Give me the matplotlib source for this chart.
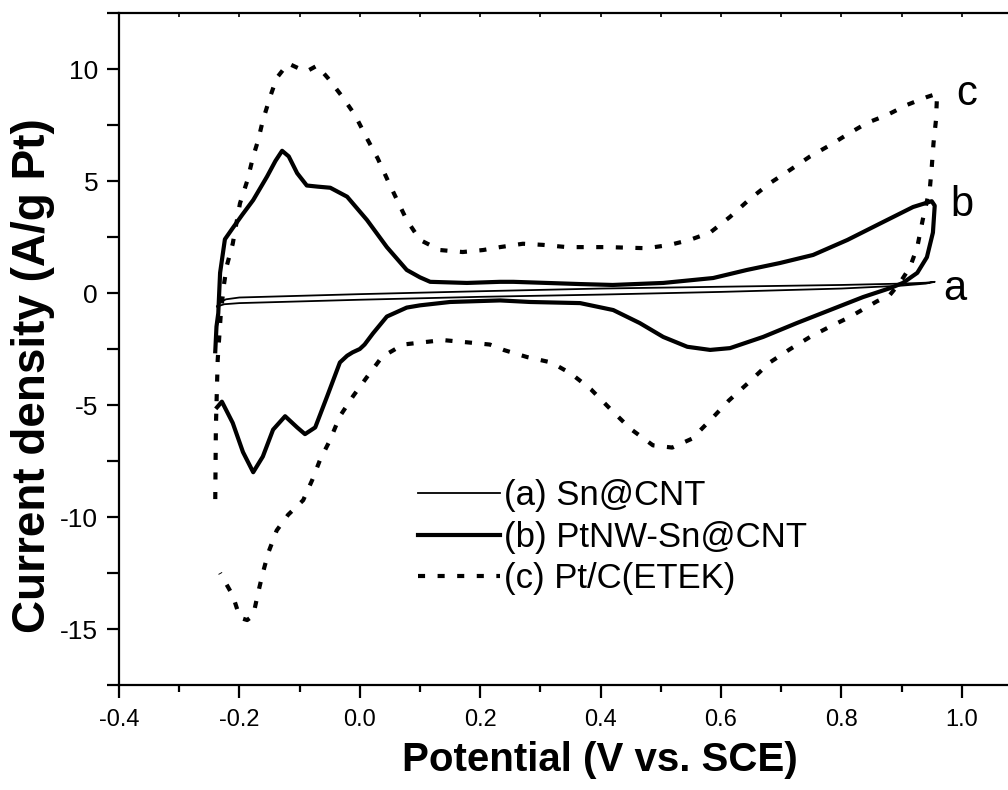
import numpy as np
import matplotlib.pyplot as plt
from matplotlib.ticker import MultipleLocator

plt.rcParams['font.family'] = ['Liberation Sans', 'DejaVu Sans']
plt.rcParams['axes.unicode_minus'] = False

# (a) Sn@CNT - thin loop
a_x = [-0.237, -0.232, -0.222, -0.2, 0.0, 0.2, 0.4, 0.6, 0.8, 0.9, 0.94, 0.955,
       0.94, 0.9, 0.8, 0.6, 0.4, 0.2, 0.0, -0.2, -0.225, -0.237]
a_y = [-0.6, -0.4, -0.28, -0.2, -0.05, 0.08, 0.2, 0.28, 0.36, 0.42, 0.46, 0.5,
       0.42, 0.33, 0.2, 0.05, -0.07, -0.17, -0.3, -0.45, -0.5, -0.6]

# (b) PtNW-Sn@CNT - thick solid
b_x = [-0.24, -0.238, -0.235, -0.232, -0.224, -0.211, -0.195, -0.177, -0.154, -0.14,
       -0.129, -0.118, -0.104, -0.088, -0.07, -0.049, -0.021, 0.012, 0.045, 0.078,
       0.1, 0.117, 0.178, 0.233, 0.255, 0.311, 0.366, 0.42, 0.504, 0.587,
       0.643, 0.698, 0.753, 0.81, 0.864, 0.919, 0.95, 0.955, 0.952, 0.942,
       0.926, 0.902, 0.881, 0.836, 0.781, 0.726, 0.67, 0.615, 0.582, 0.544,
       0.504, 0.465, 0.421, 0.366, 0.283, 0.233, 0.15, 0.1, 0.078, 0.045,
       0.022, 0.008, 0.0, -0.012, -0.021, -0.033, -0.054, -0.074, -0.091, -0.104,
       -0.124, -0.144, -0.161, -0.177, -0.194, -0.211, -0.229, -0.237]
b_y = [-2.6, -1.5, -0.9, 0.9, 2.4, 2.9, 3.5, 4.15, 5.2, 5.9,
       6.35, 6.1, 5.35, 4.8, 4.75, 4.7, 4.3, 3.26, 2.05, 1.03,
       0.7, 0.5, 0.45, 0.5, 0.5, 0.45, 0.4, 0.36, 0.45, 0.67,
       1.03, 1.34, 1.7, 2.37, 3.1, 3.84, 4.1, 3.9, 2.7, 1.6,
       0.9, 0.45, 0.22, -0.18, -0.76, -1.34, -1.96, -2.46, -2.54, -2.4,
       -1.96, -1.34, -0.76, -0.45, -0.4, -0.33, -0.4, -0.55, -0.65, -1.05,
       -1.8, -2.3, -2.5, -2.65, -2.8, -3.1, -4.6, -6.0, -6.3, -6.0,
       -5.5, -6.1, -7.3, -8.0, -7.1, -5.8, -4.85, -5.1]

# (c) Pt/C(ETEK) - dotted
c_x = [-0.24, -0.239, -0.236, -0.231, -0.226, -0.221, -0.211, -0.199, -0.187, -0.177,
       -0.169, -0.161, -0.149, -0.138, -0.119, -0.099, -0.088, -0.071, -0.053, -0.03,
       -0.008, 0.012, 0.03, 0.047, 0.062, 0.078, 0.1, 0.133, 0.171, 0.205,
       0.233, 0.271, 0.304, 0.344, 0.411, 0.477, 0.515, 0.548, 0.582, 0.615,
       0.648, 0.681, 0.715, 0.748, 0.781, 0.811, 0.843, 0.876, 0.909, 0.942,
       0.959, 0.957, 0.953, 0.95, 0.947, 0.935, 0.926, 0.914, 0.897, 0.88,
       0.859, 0.814, 0.781, 0.748, 0.715, 0.681, 0.647, 0.613, 0.585, 0.552,
       0.519, 0.487, 0.45, 0.417, 0.384, 0.351, 0.318, 0.278, 0.24, 0.216,
       0.178, 0.138, 0.105, 0.072, 0.037, 0.012, -0.011, -0.033, -0.05, -0.066,
       -0.079, -0.094, -0.119, -0.138, -0.152, -0.161, -0.169, -0.177, -0.187, -0.199,
       -0.211, -0.232]
c_y = [-9.2, -6.0, -3.0, -1.0, 0.3, 1.2, 2.2, 4.0, 5.0, 6.1,
       6.8, 7.7, 8.75, 9.6, 10.25, 10.0, 9.9, 10.15, 9.6, 8.8,
       7.95, 6.9, 6.0, 5.0, 4.15, 3.26, 2.37, 1.92, 1.83, 1.92,
       2.05, 2.2, 2.15, 2.05, 2.05, 2.0, 2.15, 2.37, 2.7, 3.4,
       4.2, 4.9, 5.5, 6.1, 6.6, 7.1, 7.6, 7.95, 8.4, 8.75,
       8.9, 7.7, 6.7, 5.6, 4.7, 3.26, 2.05, 1.16, 0.45, -0.1,
       -0.37, -1.07, -1.5, -1.96, -2.5, -3.1, -3.97, -4.8, -5.6, -6.5,
       -6.9, -6.8, -6.07, -5.2, -4.3, -3.6, -3.1, -2.86, -2.55, -2.3,
       -2.2, -2.1, -2.2, -2.3, -2.85, -3.75, -4.6, -5.5, -6.6, -7.45,
       -8.35, -9.25, -9.9, -10.6, -11.6, -12.5, -13.4, -14.4, -14.6, -14.5,
       -13.5, -12.5]

labels = ['(a) Sn@CNT', '(b) PtNW-Sn@CNT', '(c) Pt/C(ETEK)']
xtick_vals = [-0.4, -0.2, 0.0, 0.2, 0.4, 0.6, 0.8, 1.0]
xtick_text = ['-0.4', '-0.2', '0.0', '0.2', '0.4', '0.6', '0.8', '1.0']

fig = plt.figure(figsize=(10.08, 7.9), dpi=100)
ax = fig.add_axes([0.118, 0.1329, 0.882, 0.8506])

ax.plot(a_x, a_y, color='black', lw=1.3, label=labels[0])
ax.plot(b_x, b_y, color='black', lw=3.0, label=labels[1])
ax.plot(c_x, c_y, color='black', lw=3.0, linestyle=(0, (1.7, 3.0)), label=labels[2])

# curve letters at the right end
ax.text(0.988, 0.2, 'a', fontsize=30, ha='center', va='center')
ax.text(1.0, 3.95, 'b', fontsize=30, ha='center', va='center')
ax.text(1.008, 8.9, 'c', fontsize=30, ha='center', va='center')

ax.set_xlim(-0.4, 1.0767)
ax.set_ylim(-17.5, 12.5)
ax.set_xticks(xtick_vals)
ax.set_xticklabels(xtick_text)
ax.xaxis.set_minor_locator(MultipleLocator(0.1))
ax.yaxis.set_major_locator(MultipleLocator(5))
ax.yaxis.set_minor_locator(MultipleLocator(2.5))

for s in ['left', 'bottom', 'top']:
    ax.spines[s].set_linewidth(1.6)
ax.spines['right'].set_visible(False)

ax.tick_params(axis='x', which='major', direction='out', length=9, width=1.6,
               labelsize=17, pad=8)
ax.tick_params(axis='x', which='minor', direction='out', length=5, width=1.6)
ax.tick_params(axis='y', which='both', direction='out', length=9, width=1.6,
               labelsize=19, pad=6)

# small inward ticks along the top spine
top = ax.secondary_xaxis('top')
top.set_xticks(np.arange(-0.4, 1.08, 0.1))
top.tick_params(direction='in', length=3, width=1.2, labeltop=False)
top.spines['top'].set_visible(False)

ax.set_xlabel('Potential (V vs. SCE)', fontsize=29, fontweight='bold')
ax.xaxis.set_label_coords(0.541, -0.083)
ax.set_ylabel('Current density (A/g Pt)', fontsize=33, fontweight='bold')
ax.yaxis.set_label_coords(-0.072, 0.461)

ax.legend(loc='upper left', bbox_to_anchor=(0.336, 0.3066), frameon=False,
          fontsize=25, handlelength=2.36, handletextpad=0.14, labelspacing=0.25,
          borderpad=0, borderaxespad=0)

plt.savefig('out.png', dpi=100)
